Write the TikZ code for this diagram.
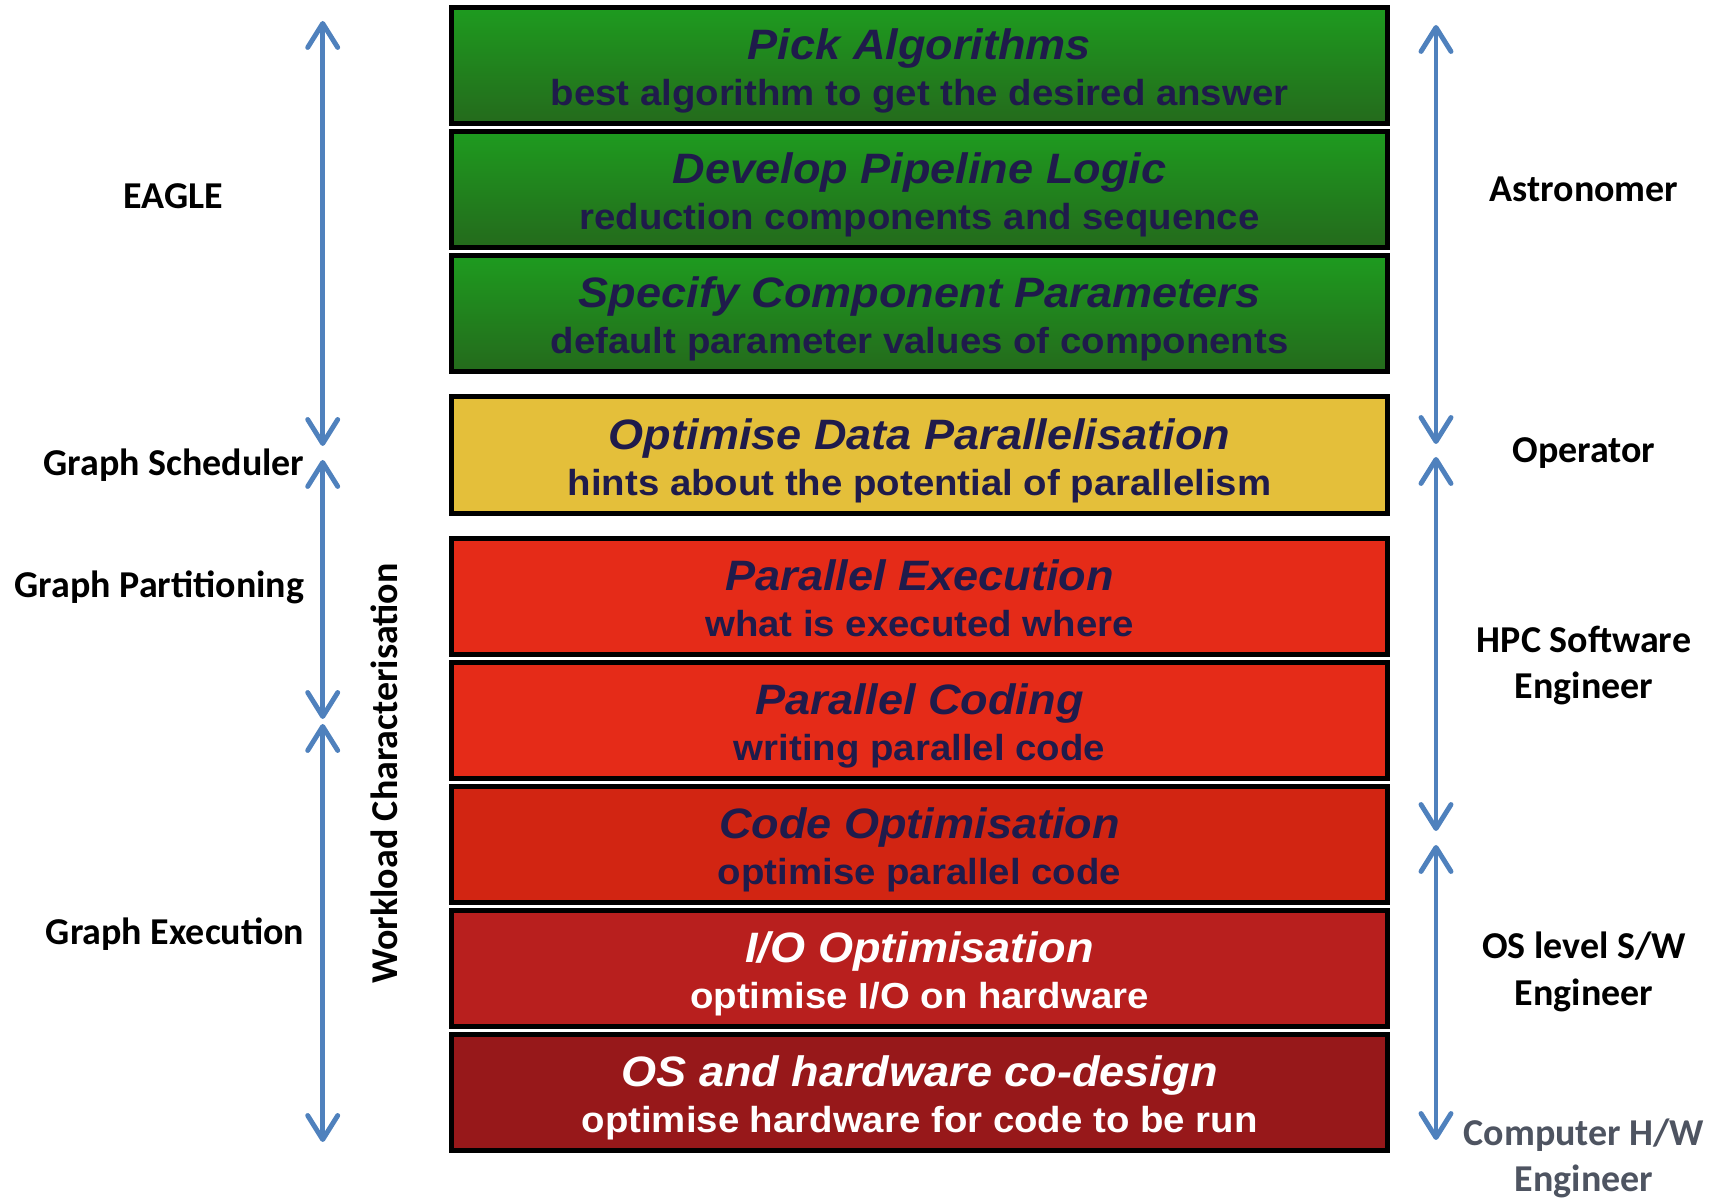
\documentclass[tikz,border=0pt]{standalone}
\usepackage{fontspec}
\setmainfont{Carlito}
\newfontfamily\boxfont[FakeStretch=1.06]{Liberation Sans}
\usetikzlibrary{arrows.meta}
\usetikzlibrary{calc}
\usetikzlibrary{shadings}
\usepackage{xcolor}

\definecolor{greenTop}{HTML}{1E9B1F}
\definecolor{greenBot}{HTML}{246A1C}
\definecolor{amber}{HTML}{E4BF3A}
\definecolor{redA}{HTML}{E52B18}
\definecolor{redB}{HTML}{D22512}
\definecolor{redC}{HTML}{B81F1E}
\definecolor{redD}{HTML}{97181A}
\definecolor{ink}{HTML}{1F1B4B}
\definecolor{arrowblue}{HTML}{4F81BD}
\definecolor{hwgray}{HTML}{4E5461}

\begin{document}
\begin{tikzpicture}[
        >={Straight Barb[round,length=2.4mm,width=3mm]},
        layer/.style={draw=black, line width=1.5pt, minimum width=9.36cm, minimum height=1.165cm, inner sep=0pt},
        ttl/.style={anchor=base, inner sep=0pt, font=\boxfont\fontsize{12.1}{14}\selectfont\bfseries\itshape},
        sub/.style={anchor=base, inner sep=0pt, font=\boxfont\fontsize{10.3}{12}\selectfont\bfseries},
        role/.style={inner sep=0pt, align=center, font=\fontsize{10.8}{13.2}\selectfont\bfseries},
        span/.style={arrowblue, line width=1.4pt, <->}
    ]
        \useasboundingbox (0,0) rectangle (17.23,-11.99);

        \coordinate (L1) at (3.227,-0.21);
        \coordinate (L2) at (3.227,-4.46);
        \coordinate (L3) at (3.227,-4.60);
        \coordinate (L4) at (3.227,-7.19);
        \coordinate (L5) at (3.227,-7.24);
        \coordinate (L6) at (3.227,-11.42);
        \coordinate (R1) at (14.36,-0.25);
        \coordinate (R2) at (14.36,-4.44);
        \coordinate (R3) at (14.36,-4.57);
        \coordinate (R4) at (14.36,-8.31);
        \coordinate (R5) at (14.36,-8.45);
        \coordinate (R6) at (14.36,-11.40);

        \node[layer, top color=greenTop, bottom color=greenBot] (P1) at (9.195,-0.655) {};
        \node[layer, top color=greenTop, bottom color=greenBot] (P2) at (9.195,-1.895) {};
        \node[layer, top color=greenTop, bottom color=greenBot] (P3) at (9.195,-3.135) {};
        \node[layer, fill=amber] (D1) at (9.195,-4.55) {};
        \node[layer, fill=redA] (E1) at (9.195,-5.965) {};
        \node[layer, fill=redA] (E2) at (9.195,-7.205) {};
        \node[layer, fill=redB] (E3) at (9.195,-8.445) {};
        \node[layer, fill=redC] (E4) at (9.195,-9.685) {};
        \node[layer, fill=redD] (E5) at (9.195,-10.925) {};

        \node[ttl, text=ink] (P1t) at ($(P1.center)+(0,0.055)$) {Pick Algorithms};
        \node[sub, text=ink] (P1s) at ($(P1.center)+(0,-0.405)$) {best algorithm to get the desired answer};
        \node[ttl, text=ink] (P2t) at ($(P2.center)+(0,0.055)$) {Develop Pipeline Logic};
        \node[sub, text=ink] (P2s) at ($(P2.center)+(0,-0.405)$) {reduction components and sequence};
        \node[ttl, text=ink] (P3t) at ($(P3.center)+(0,0.055)$) {Specify Component Parameters};
        \node[sub, text=ink] (P3s) at ($(P3.center)+(0,-0.405)$) {default parameter values of components};
        \node[ttl, text=ink] (D1t) at ($(D1.center)+(0,0.055)$) {Optimise Data Parallelisation};
        \node[sub, text=ink] (D1s) at ($(D1.center)+(0,-0.405)$) {hints about the potential of parallelism};
        \node[ttl, text=ink] (E1t) at ($(E1.center)+(0,0.055)$) {Parallel Execution};
        \node[sub, text=ink] (E1s) at ($(E1.center)+(0,-0.405)$) {what is executed where};
        \node[ttl, text=ink] (E2t) at ($(E2.center)+(0,0.055)$) {Parallel Coding};
        \node[sub, text=ink] (E2s) at ($(E2.center)+(0,-0.405)$) {writing parallel code};
        \node[ttl, text=ink] (E3t) at ($(E3.center)+(0,0.055)$) {Code Optimisation};
        \node[sub, text=ink] (E3s) at ($(E3.center)+(0,-0.405)$) {optimise parallel code};
        \node[ttl, text=white] (E4t) at ($(E4.center)+(0,0.055)$) {I/O Optimisation};
        \node[sub, text=white] (E4s) at ($(E4.center)+(0,-0.405)$) {optimise I/O on hardware};
        \node[ttl, text=white] (E5t) at ($(E5.center)+(0,0.055)$) {OS and hardware co-design};
        \node[sub, text=white] (E5s) at ($(E5.center)+(0,-0.405)$) {optimise hardware for code to be run};

        \node[role, anchor=base] (EAGLE) at (1.735,-2.09) {EAGLE};
        \node[role, anchor=base east] (Sched) at (3.05,-4.76) {Graph Scheduler};
        \node[role, anchor=base east] (Part) at (3.05,-5.98) {Graph Partitioning};
        \node[role, anchor=base east] (Exec) at (3.05,-9.45) {Graph Execution};
        \node[role, anchor=base, rotate=90] (Work) at (3.97,-7.735) {Workload Characterisation};

        \node[role, anchor=base] (Astro) at (15.84,-2.02) {Astronomer};
        \node[role, anchor=base] (Oper) at (15.84,-4.63) {Operator};
        \node[role] (HPC) at (15.84,-6.653) {HPC Software\\Engineer};
        \node[role] (OSW) at (15.84,-9.718) {OS level S/W\\Engineer};
        \node[role, text=hwgray] (HW) at (15.84,-11.583) {Computer H/W\\Engineer};

        \draw[span] (L1) -- (L2);
        \draw[span] (L3) -- (L4);
        \draw[span] (L5) -- (L6);
        \draw[span] (R1) -- (R2);
        \draw[span] (R3) -- (R4);
        \draw[span] (R5) -- (R6);
    \end{tikzpicture}
\end{document}
